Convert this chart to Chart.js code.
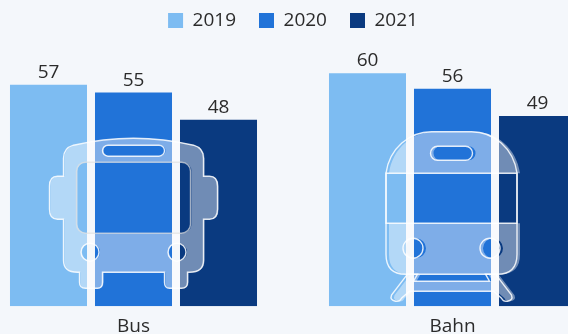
<!DOCTYPE html>
<html>
<head>
<meta charset="utf-8">
<style>
  html, body { margin: 0; padding: 0; width: 568px; height: 334px; overflow: hidden; background: #f4f7fb; }
  #wrap { position: absolute; left: -26px; top: 0; width: 638px; height: 339px; }
</style>
<script src="https://cdn.jsdelivr.net/npm/chart.js@4"></script>
</head>
<body>
<div id="wrap"><canvas id="passengerChart" width="638" height="339"></canvas></div>
<script>
// Chart data
const categories = ['Bus', 'Bahn'];
const years = ['2019', '2020', '2021'];
const values2019 = [57, 60];
const values2020 = [55, 56];
const values2021 = [48, 49];
const barColors = ['#7dbcf2', '#2173d8', '#0a3a80'];

const textColor = '#2b2b2b';
const fontFamily = '"Open Sans", "Noto Sans", sans-serif';

function roundedRect(path, x, y, w, h, r) {
  path.roundRect(x, y, w, h, r);
}

// Outline of the bus, origin is the category centre on the baseline
function busShapes() {
  const body = new Path2D();
  body.moveTo(-70, -148);
  body.quadraticCurveTo(-70, -158, -60, -161);
  body.quadraticCurveTo(-30, -168, 0, -168);
  body.quadraticCurveTo(30, -168, 60, -161);
  body.quadraticCurveTo(70, -158, 70, -148);
  body.lineTo(70, -130);
  body.lineTo(76, -130);
  body.quadraticCurveTo(84, -130, 84, -120);
  body.lineTo(84, -97);
  body.quadraticCurveTo(84, -87, 76, -87);
  body.lineTo(70, -87);
  body.lineTo(70, -46);
  body.quadraticCurveTo(70, -34, 56, -34);
  body.lineTo(54, -34);
  body.lineTo(54, -24);
  body.quadraticCurveTo(54, -18, 48, -18);
  body.lineTo(36, -18);
  body.quadraticCurveTo(31, -18, 31, -24);
  body.lineTo(31, -34);
  body.lineTo(-31, -34);
  body.lineTo(-31, -24);
  body.quadraticCurveTo(-31, -18, -36, -18);
  body.lineTo(-48, -18);
  body.quadraticCurveTo(-54, -18, -54, -24);
  body.lineTo(-54, -34);
  body.lineTo(-56, -34);
  body.quadraticCurveTo(-70, -34, -70, -46);
  body.lineTo(-70, -87);
  body.lineTo(-76, -87);
  body.quadraticCurveTo(-84, -87, -84, -97);
  body.lineTo(-84, -120);
  body.quadraticCurveTo(-84, -130, -76, -130);
  body.lineTo(-70, -130);
  body.closePath();

  const windowPane = new Path2D();
  roundedRect(windowPane, -57, -144, 114, 71, 9);

  const sign = new Path2D();
  roundedRect(sign, -31, -161, 62, 11, 5.5);

  const lights = new Path2D();
  lights.moveTo(-34.5, -54);
  lights.arc(-43.5, -54, 9, 0, Math.PI * 2);
  lights.moveTo(52.5, -54);
  lights.arc(43.5, -54, 9, 0, Math.PI * 2);

  return { body, holes: [windowPane, sign, lights], pane: windowPane };
}

// Outline of the train, same origin as the bus
function trainShapes() {
  const body = new Path2D();
  body.moveTo(-65.5, -133);
  body.bezierCurveTo(-62, -158, -42, -174.5, -20, -174.5);
  body.lineTo(20, -174.5);
  body.bezierCurveTo(42, -174.5, 62, -158, 65.5, -133);
  body.lineTo(65.5, -52);
  body.quadraticCurveTo(65.5, -32, 46, -32);
  body.lineTo(-46, -32);
  body.quadraticCurveTo(-65.5, -32, -65.5, -52);
  body.closePath();

  const band = new Path2D();
  band.rect(-65.5, -133, 131, 50);

  const sign = new Path2D();
  roundedRect(sign, -21, -160, 42, 14, 7);

  const lights = new Path2D();
  lights.moveTo(-28.5, -58);
  lights.arc(-38.5, -58, 10, 0, Math.PI * 2);
  lights.moveTo(48.5, -58);
  lights.arc(38.5, -58, 10, 0, Math.PI * 2);

  // Rails below the train
  const rails = new Path2D();
  rails.moveTo(-44, -32);
  rails.lineTo(-34, -32);
  rails.lineTo(-38, -25);
  rails.lineTo(38, -25);
  rails.lineTo(34, -32);
  rails.lineTo(44, -32);
  rails.lineTo(60, -11);
  rails.quadraticCurveTo(62, -6, 56, -5);
  rails.quadraticCurveTo(52, -4, 50, -8);
  rails.lineTo(42, -15);
  rails.lineTo(-42, -15);
  rails.lineTo(-50, -8);
  rails.quadraticCurveTo(-52, -4, -56, -5);
  rails.quadraticCurveTo(-62, -6, -60, -11);
  rails.closePath();

  return { body, holes: [band, sign, lights], rails, band };
}

function fillWithHoles(ctx, shapes, offset) {
  const combined = new Path2D(shapes.body);
  shapes.holes.forEach((hole) => combined.addPath(hole));
  ctx.save();
  ctx.translate(offset, 0);
  ctx.fillStyle = 'rgba(255, 255, 255, 0.42)';
  ctx.fill(combined, 'evenodd');
  if (shapes.rails) {
    ctx.fill(shapes.rails);
  }
  ctx.restore();
}

// Vehicle icons laid over each group of bars
const vehicleIcons = {
  id: 'vehicleIcons',
  afterDatasetsDraw(chart) {
    const ctx = chart.ctx;
    const base = chart.scales.y.getPixelForValue(0);
    const bus = busShapes();
    const train = trainShapes();

    ctx.save();
    ctx.lineWidth = 1.4;

    ctx.save();
    ctx.translate(chart.scales.x.getPixelForValue(0), base);
    fillWithHoles(ctx, bus, 1);
    ctx.strokeStyle = 'rgba(255, 255, 255, 0.85)';
    ctx.stroke(bus.body);
    ctx.stroke(bus.holes[1]);
    ctx.stroke(bus.holes[2]);
    ctx.strokeStyle = 'rgba(225, 225, 225, 0.7)';
    ctx.stroke(bus.pane);
    ctx.restore();

    ctx.save();
    ctx.translate(chart.scales.x.getPixelForValue(1) - 1, base);
    fillWithHoles(ctx, train, 3);
    ctx.strokeStyle = 'rgba(255, 255, 255, 0.85)';
    ctx.stroke(train.body);
    ctx.stroke(train.band);
    ctx.stroke(train.holes[1]);
    ctx.stroke(train.holes[2]);
    ctx.stroke(train.rails);
    ctx.restore();

    ctx.restore();
  },
};

// Value labels above the bars
const valueLabels = {
  id: 'valueLabels',
  afterDatasetsDraw(chart) {
    const ctx = chart.ctx;
    ctx.save();
    ctx.font = '19px ' + fontFamily;
    ctx.fillStyle = textColor;
    ctx.textAlign = 'center';
    ctx.textBaseline = 'bottom';
    chart.data.datasets.forEach((dataset, i) => {
      chart.getDatasetMeta(i).data.forEach((bar, j) => {
        ctx.fillText(dataset.data[j], bar.x, bar.y - 3);
      });
    });
    ctx.restore();
  },
};

const seriesValues = [values2019, values2020, values2021];

new Chart(document.getElementById('passengerChart'), {
  type: 'bar',
  data: {
    labels: categories,
    datasets: years.map((year, i) => ({
      label: year,
      data: seriesValues[i],
      backgroundColor: barColors[i],
      borderWidth: 0,
      categoryPercentage: 0.7994,
      barPercentage: 0.906,
    })),
  },
  options: {
    responsive: false,
    animation: false,
    layout: { padding: { top: -12, bottom: 0, left: 0, right: 0 } },
    plugins: {
      tooltip: { enabled: false },
      legend: {
        position: 'top',
        labels: {
          boxWidth: 15,
          boxHeight: 15,
          padding: 23,
          color: textColor,
          font: { family: fontFamily, size: 19 },
        },
      },
    },
    scales: {
      x: {
        grid: { display: false },
        border: { display: false },
        ticks: {
          color: textColor,
          padding: 1,
          font: { family: fontFamily, size: 19 },
        },
      },
      y: { display: false, min: 0, max: 68.55 },
    },
  },
  plugins: [valueLabels, vehicleIcons],
});
</script>
</body>
</html>
